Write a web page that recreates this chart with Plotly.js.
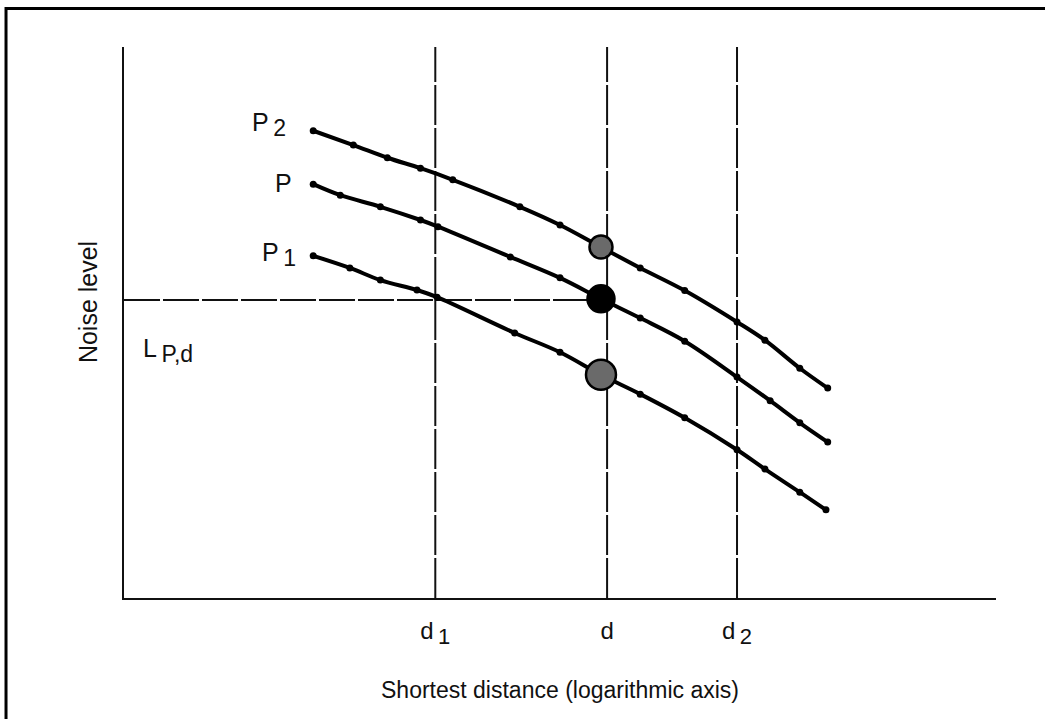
<!DOCTYPE html>
<html>
<head>
<meta charset="utf-8">
<script src="https://cdn.plot.ly/plotly-3.0.1.min.js"></script>
<style>
  html, body { margin: 0; padding: 0; background: #fff; }
  #chart { width: 1045px; height: 719px; }
</style>
</head>
<body>
<div id="chart"></div>
<script>
// Position along the log-distance axis (0-100, no numeric scale shown)
const xP2 = [21.7, 26.3, 30.2, 34.0, 37.7, 45.4, 50.0, 54.7, 59.2, 64.3, 70.3, 73.5, 77.5, 80.7];
const yP2 = [84.8, 82.2, 79.9, 78.0, 75.9, 71.0, 67.7, 63.7, 59.9, 55.8, 50.1, 46.8, 41.7, 38.1];

const xP = [21.7, 24.8, 29.4, 34.0, 36.0, 44.3, 50.0, 54.7, 59.2, 64.3, 70.3, 74.1, 77.5, 80.7];
const yP = [75.1, 73.1, 71.0, 68.6, 67.4, 61.9, 58.1, 54.3, 50.8, 46.6, 40.1, 35.8, 31.8, 28.3];

const xP1 = [21.7, 25.9, 29.4, 33.6, 35.9, 44.8, 50.0, 54.7, 59.2, 64.3, 70.3, 73.5, 77.5, 80.5];
const yP1 = [62.1, 59.9, 57.7, 55.9, 54.6, 48.1, 44.6, 40.5, 37.0, 32.7, 26.9, 23.4, 19.2, 16.0];

// Points at distance d
const dotX = [54.7, 54.7, 54.7];
const dotY = [63.7, 54.3, 40.5];
const dotColors = ["#6a6a6a", "#000000", "#6a6a6a"];
const dotSizes = [23, 27, 30];

// Distance marks
const distVals = [35.7, 55.4, 70.3];
const distLabels = ["d<sub><span style='font-size:22px'>\u20091</span></sub>", "d",
                    "d<sub><span style='font-size:22px'>\u20092</span></sub>"];
const levelAtD = 54.1;

// Curve labels
const curveNames = ["P<sub><span style='font-size:23px'>\u20092</span></sub>", "P",
                    "P<sub><span style='font-size:23px'>\u20091</span></sub>"];
const curveLabelX = [16.6, 18.3, 17.8];
const curveLabelY = [86.0, 75.3, 62.3];

const FONT = "Liberation Sans, Arial, sans-serif";

function curve(x, y) {
  return {
    x: x, y: y, type: "scatter", mode: "lines+markers",
    line: { color: "#000", width: 4, shape: "spline", smoothing: 1 },
    marker: { color: "#000", size: 7, symbol: "circle", opacity: 1 },
    hoverinfo: "skip", showlegend: false
  };
}

const traces = [
  curve(xP2, yP2),
  curve(xP, yP),
  curve(xP1, yP1),
  {
    x: dotX, y: dotY, type: "scatter", mode: "markers",
    marker: { color: dotColors, size: dotSizes, opacity: 1, line: { color: "#000", width: 2.5 } },
    hoverinfo: "skip", showlegend: false
  }
];

const shapes = distVals.map(v => ({
  type: "line", xref: "x", yref: "paper", x0: v, x1: v, y0: 0, y1: 1,
  line: { color: "#111", width: 2, dash: "40px,3px" }, layer: "below"
}));
shapes.push({
  type: "line", xref: "paper", yref: "y", x0: 0, x1: dotX[1] / 100, y0: levelAtD, y1: levelAtD,
  line: { color: "#111", width: 2, dash: "36px,3px" }, layer: "below"
});
// Outer frame of the figure (extends past the right and bottom edges)
shapes.push({
  type: "rect", xref: "paper", yref: "paper",
  x0: -0.1353, x1: 1.2, y0: -0.4, y1: 1.0699,
  line: { color: "#000", width: 3 }, fillcolor: "rgba(0,0,0,0)", layer: "above"
});

const annotations = curveNames.map((t, i) => ({
  x: curveLabelX[i], y: curveLabelY[i], xref: "x", yref: "y",
  text: t, showarrow: false, xanchor: "center", yanchor: "middle",
  font: { family: FONT, size: 25, color: "#111" }
}));
annotations.push({
  x: 2.0, y: 45.0, xref: "x", yref: "y",
  text: "L<sub><span style='font-size:23px'>\u2009P,d</span></sub>",
  showarrow: false, xanchor: "left", yanchor: "middle",
  font: { family: FONT, size: 25, color: "#111" }
});
// y axis title
annotations.push({
  x: -0.0413, y: 0.537, xref: "paper", yref: "paper", text: "Noise level",
  textangle: -90, showarrow: false, xanchor: "center", yanchor: "middle",
  font: { family: FONT, size: 25, color: "#111" }
});

const layout = {
  width: 1045, height: 719,
  margin: { l: 124, r: 49, t: 47, b: 121 },
  paper_bgcolor: "#fff", plot_bgcolor: "#fff",
  xaxis: {
    range: [0, 100], showgrid: false, zeroline: false,
    showline: true, linecolor: "#111", linewidth: 2,
    tickvals: distVals, ticktext: distLabels, ticks: "",
    ticklabelstandoff: 10,
    tickfont: { family: FONT, size: 24, color: "#111" },
    title: { text: "Shortest distance (logarithmic axis)", standoff: 34,
             font: { family: FONT, size: 23, color: "#111" } },
    fixedrange: true, automargin: false
  },
  yaxis: {
    range: [0, 100], showgrid: false, zeroline: false,
    showline: true, linecolor: "#111", linewidth: 2,
    showticklabels: false, ticks: "",
    fixedrange: true, automargin: false
  },
  shapes: shapes,
  annotations: annotations
};

Plotly.newPlot("chart", traces, layout, { displayModeBar: false, staticPlot: true });
</script>
</body>
</html>
